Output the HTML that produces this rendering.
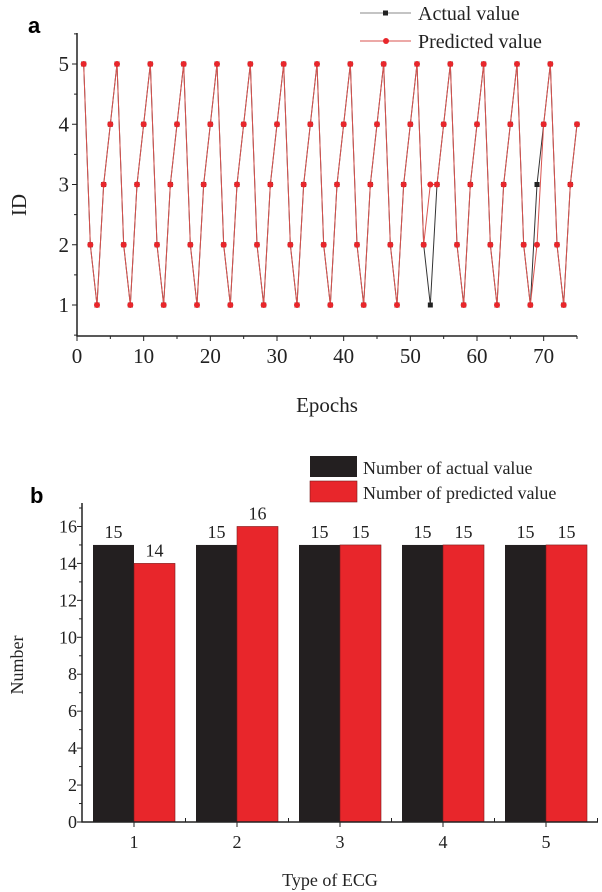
<!DOCTYPE html>
<html><head><meta charset="utf-8"><style>
body{margin:0;background:#fff;}
svg{display:block;font-family:"Liberation Serif",serif;}
</style></head><body>
<svg id="s" width="602" height="892" viewBox="0 0 602 892" xmlns="http://www.w3.org/2000/svg">
<text x="28" y="33" font-family="Liberation Sans" font-weight="bold" font-size="22">a</text>
<text x="30" y="503" font-family="Liberation Sans" font-weight="bold" font-size="22">b</text>
<g id="topchart"></g>
<g id="botchart"></g>
</svg>
<script>
// Panel a data
const epochs = [];
for (let i = 1; i <= 75; i++) epochs.push(i);
const actualIds = [5,2,1,3,4,5,2,1,3,4,5,2,1,3,4,5,2,1,3,4,5,2,1,3,4,5,2,1,3,4,5,2,1,3,4,5,2,1,3,4,5,2,1,3,4,5,2,1,3,4,5,2,1,3,4,5,2,1,3,4,5,2,1,3,4,5,2,1,3,4,5,2,1,3,4];
const predictedIds = [5,2,1,3,4,5,2,1,3,4,5,2,1,3,4,5,2,1,3,4,5,2,1,3,4,5,2,1,3,4,5,2,1,3,4,5,2,1,3,4,5,2,1,3,4,5,2,1,3,4,5,2,3,3,4,5,2,1,3,4,5,2,1,3,4,5,2,1,2,4,5,2,1,3,4];
const xTicksA = [0,10,20,30,40,50,60,70];
const yTicksA = [1,2,3,4,5];
// Panel b data
const ecgTypes = ["1","2","3","4","5"];
const actualCounts = [15,15,15,15,15];
const predictedCounts = [14,16,15,15,15];
const yTicksB = [0,2,4,6,8,10,12,14,16];

const NS="http://www.w3.org/2000/svg";
function mk(p,tag,at,txt){const e=document.createElementNS(NS,tag);for(const k in at)e.setAttribute(k,at[k]);if(txt!==undefined)e.textContent=txt;p.appendChild(e);return e;}

// ---- Panel a ----
const topG=document.getElementById('topchart');
const xA=v=>77+v*(500/75), yA=v=>305-(v-1)*60.25;
let ax=mk(topG,'path',{d:'M77,33V336H577',stroke:'#222','stroke-width':1.5,fill:'none'});

for(let v=0;v<=75;v+=5){const major=v%10===0;mk(topG,'line',{x1:xA(v),x2:xA(v),y1:336,y2:336+(major?5:3),stroke:'#222'});}
xTicksA.forEach(v=>{const t=mk(topG,'text',{x:xA(v),y:363,'text-anchor':'middle','font-size':21,fill:'#222'},v);});
for(let v=0.5;v<=5.5;v+=0.5){const major=Number.isInteger(v);mk(topG,'line',{x1:77,x2:77-(major?5:3),y1:yA(v),y2:yA(v),stroke:'#222'});}
yTicksA.forEach(v=>{const t=mk(topG,'text',{x:69,y:yA(v)+7,'text-anchor':'end','font-size':21,fill:'#222'},v);});
let t=mk(topG,'text',{x:327,y:412,'text-anchor':'middle','font-size':21,fill:'#222'},'Epochs');
t=mk(topG,'text',{x:0,y:0,transform:'translate(26,205) rotate(-90)','text-anchor':'middle','font-size':21,fill:'#222'},'ID');
let pa=mk(topG,'polyline',{points:epochs.map((e,i)=>xA(e)+','+yA(actualIds[i])).join(' '),fill:'none',stroke:'#333','stroke-width':1});

epochs.forEach((e,i)=>{const r=mk(topG,'rect',{x:xA(e)-2.5,y:yA(actualIds[i])-2.5,width:5,height:5,fill:'#222'});});
let pp=mk(topG,'polyline',{points:epochs.map((e,i)=>xA(e)+','+yA(predictedIds[i])).join(' '),fill:'none',stroke:'#d9534f','stroke-width':1});

epochs.forEach((e,i)=>{const c=mk(topG,'circle',{cx:xA(e),cy:yA(predictedIds[i]),r:3,fill:'#e8262b'});});
let lg=mk(topG,'g',{});
mk(lg,'line',{x1:360,x2:411,y1:13,y2:13,stroke:'#888'});mk(lg,'rect',{x:383,y:10.5,width:5,height:5,fill:'#222'});
mk(lg,'text',{x:418,y:20,'font-size':20,fill:'#222'},'Actual value');
mk(lg,'line',{x1:360,x2:411,y1:41,y2:41,stroke:'#d9534f'});mk(lg,'circle',{cx:386,cy:41,r:3,fill:'#e8262b'});
mk(lg,'text',{x:418,y:48,'font-size':20,fill:'#222'},'Predicted value');

// ---- Panel b ----
const botG=document.getElementById('botchart');
const xB=i=>134+i*103, yB=v=>822-v*18.47;
ecgTypes.forEach((c,i)=>{
 let r=mk(botG,'rect',{x:xB(i)-41,y:yB(actualCounts[i]),width:41,height:822-yB(actualCounts[i]),fill:'#231f20'});
 
 r=mk(botG,'rect',{x:xB(i),y:yB(predictedCounts[i]),width:41,height:822-yB(predictedCounts[i]),fill:'#e8262b',stroke:'#7a1a1a','stroke-width':0.6});
 
 let l=mk(botG,'text',{x:xB(i)-20.5,y:yB(actualCounts[i])-7,'text-anchor':'middle','font-size':18,fill:'#222'},actualCounts[i]);
 
 l=mk(botG,'text',{x:xB(i)+20.5,y:yB(predictedCounts[i])-7,'text-anchor':'middle','font-size':18,fill:'#222'},predictedCounts[i]);
 
 mk(botG,'line',{x1:xB(i),x2:xB(i),y1:822,y2:827,stroke:'#222'});
 mk(botG,'line',{x1:xB(i)+51.5,x2:xB(i)+51.5,y1:822,y2:818,stroke:'#222'});
 l=mk(botG,'text',{x:xB(i),y:848,'text-anchor':'middle','font-size':18,fill:'#222'},c);
 
});
ax=mk(botG,'path',{d:'M82,503V822H598',stroke:'#222','stroke-width':1.5,fill:'none'});

for(let v=0;v<=17;v+=1){const major=v%2===0;mk(botG,'line',{x1:82,x2:82-(major?5:3),y1:yB(v),y2:yB(v),stroke:'#222'});}
yTicksB.forEach(v=>{const l=mk(botG,'text',{x:77,y:yB(v)+6,'text-anchor':'end','font-size':18,fill:'#222'},v);});
t=mk(botG,'text',{x:330,y:886,'text-anchor':'middle','font-size':18,fill:'#222'},'Type of ECG');
t=mk(botG,'text',{x:0,y:0,transform:'translate(23,665) rotate(-90)','text-anchor':'middle','font-size':18,fill:'#222'},'Number');
lg=mk(botG,'g',{});
mk(lg,'rect',{x:310,y:456,width:47,height:21,fill:'#231f20'});
mk(lg,'text',{x:363,y:474,'font-size':18,fill:'#222'},'Number of actual value');
mk(lg,'rect',{x:310,y:481,width:47,height:21,fill:'#e8262b',stroke:'#7a1a1a','stroke-width':0.6});
mk(lg,'text',{x:363,y:499,'font-size':18,fill:'#222'},'Number of predicted value');
</script>
</body></html>
